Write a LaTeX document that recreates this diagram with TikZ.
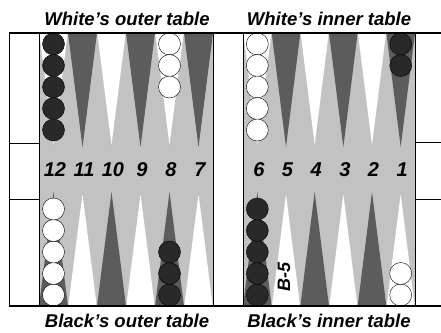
\documentclass[tikz,border=0pt]{standalone}
\usepackage{fontspec}
\setmainfont{Liberation Sans}
\usetikzlibrary{positioning}

\definecolor{boardgray}{gray}{0.76}
\definecolor{pointgray}{gray}{0.36}
\definecolor{mangray}{gray}{0.16}

\begin{document}
\begin{tikzpicture}[
    x=1pt, y=-1pt,
    every node/.style={font=\fontsize{18}{20}\selectfont\bfseries\itshape, inner sep=0pt},
    tabletitle/.style={anchor=base, font=\fontsize{18.5}{20}\selectfont\bfseries\itshape},
    ptnum/.style={anchor=center, font=\fontsize{20}{22}\selectfont\bfseries\itshape},
    darkpt/.style={fill=pointgray},
    whitept/.style={fill=white, draw=gray!60, very thin},
    blackman/.style={fill=mangray, draw=black, thin},
    whiteman/.style={fill=white, draw=black, thin},
    frame/.style={draw=black, line width=0.8pt},
    edge/.style={draw=black, line width=1.2pt}
]
    \useasboundingbox (0,0) rectangle (441,332);

    % playing surface
    \fill[boardgray] (39,33) rectangle (213,306);
    \fill[boardgray] (243,33) rectangle (415,306);

    % points and their numbers
    \foreach \xo/\w/\first in {39/29/12, 243/28.667/6} {
      \foreach \i in {0,...,5} {
        \pgfmathsetmacro\xa{\xo+\w*\i}
        \pgfmathsetmacro\xb{\xa+\w}
        \pgfmathsetmacro\xm{\xa+\w/2}
        \pgfmathtruncatemacro\n{\first-\i}
        \ifodd\n\relax
          \path[darkpt] (\xa,33) -- (\xb,33) -- (\xm,147) -- cycle;
          \path[whitept] (\xa,306) -- (\xb,306) -- (\xm,192) -- cycle;
        \else
          \path[whitept] (\xa,33) -- (\xb,33) -- (\xm,147) -- cycle;
          \path[darkpt] (\xa,306) -- (\xb,306) -- (\xm,192) -- cycle;
        \fi
        \node[ptnum] (p\n) at ({\xm+1.5},169.5) {\n};
      }
    }

    % checkers
    \foreach \k in {0,...,4} {
      \path[blackman] (53.5,{44+21.5*\k}) circle (11pt);
      \path[whiteman] (257.3,{44+21.5*\k}) circle (11pt);
      \path[whiteman] (53.5,{295-21.5*\k}) circle (11pt);
      \path[blackman] (257.3,{295-21.5*\k}) circle (11pt);
    }
    \foreach \k in {0,1,2} {
      \path[whiteman] (169.5,{44+21.5*\k}) circle (11pt);
      \path[blackman] (169.5,{295-21.5*\k}) circle (11pt);
    }
    \foreach \k in {0,1} {
      \path[blackman] (400.7,{44+21.5*\k}) circle (11pt);
      \path[whiteman] (400.7,{295-21.5*\k}) circle (11pt);
    }

    \node[rotate=90, font=\fontsize{18}{20}\selectfont\bfseries\itshape] (b5) at (284,277) {B-5};

    % frame
    \draw[edge] (9,33) -- (441,33);
    \draw[edge] (9,306) -- (441,306);
    \draw[frame] (9,33) -- (9,306) (39,33) -- (39,306);
    \draw[frame] (9,143) -- (39,143) (9,199) -- (39,199);
    \draw[frame] (213,33) -- (213,306) (243,33) -- (243,306);
    \draw[frame] (415,33) -- (415,306);
    \draw[frame] (415,142) -- (441,142) (415,199) -- (441,199);

    % table names
    \node[tabletitle] (wout) at (127,25) {White’s outer table};
    \node[tabletitle] (win) at (329,25) {White’s inner table};
    \node[tabletitle] (bout) at (127,327.5) {Black’s outer table};
    \node[tabletitle] (bin) at (329,327.5) {Black’s inner table};
\end{tikzpicture}
\end{document}
